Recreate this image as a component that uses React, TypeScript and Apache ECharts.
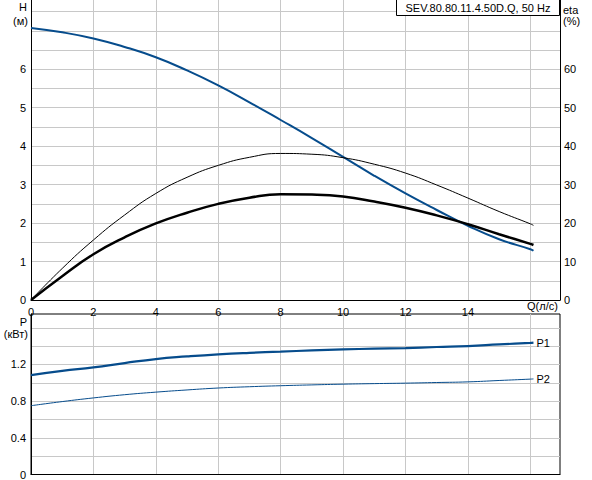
import React, { useEffect, useRef } from 'react';
import * as echarts from 'echarts';

// flow Q (л/с) sample points shared by all curves
const flow = [0, 1, 2, 3, 4, 5, 6, 7, 8, 9, 10, 11, 12, 13, 14, 15, 16, 16.1];
// head H (м)
const head = [7.07, 6.96, 6.8, 6.58, 6.31, 5.97, 5.58, 5.14, 4.68, 4.21, 3.72, 3.23, 2.77, 2.34, 1.93, 1.58, 1.32, 1.28];
// pump efficiency (%)
const etaPump = [0, 8.2, 15.6, 22.1, 27.7, 31.9, 35.0, 37.1, 38.1, 37.9, 37.0, 35.3, 33.0, 29.9, 26.5, 23.0, 19.8, 19.4];
// total efficiency (%)
const etaTotal = [0, 6.2, 11.9, 16.3, 19.9, 22.7, 25.0, 26.6, 27.5, 27.4, 26.9, 25.6, 24.0, 22.0, 19.7, 17.1, 14.6, 14.3];
// power input P1 / shaft power P2 (кВт)
const powerP1 = [1.084, 1.13, 1.168, 1.215, 1.259, 1.287, 1.31, 1.327, 1.34, 1.353, 1.364, 1.372, 1.379, 1.39, 1.40, 1.418, 1.435, 1.438];
const powerP2 = [0.75, 0.795, 0.835, 0.87, 0.898, 0.922, 0.943, 0.957, 0.968, 0.977, 0.985, 0.991, 0.996, 1.003, 1.01, 1.025, 1.04, 1.042];

const FONT = '"Liberation Sans", Arial, sans-serif';
const BLUE = '#064c8c';
const GRID = '#c8c8c8';

const pairs = (ys: number[]) => flow.map((q, i) => [q, ys[i]]);

export default function App() {
  const chartRef = useRef<HTMLDivElement>(null);

  useEffect(() => {
    if (!chartRef.current) return;
    const chart = echarts.init(chartRef.current, undefined, { renderer: 'svg' });

    const label = { color: '#000', fontSize: 11, fontFamily: FONT };
    const split = { show: true, showMinLine: false, showMaxLine: false, lineStyle: { color: GRID, width: 1 } };
    const axisLine = { show: true, lineStyle: { color: '#000', width: 1 } };
    const txt = (text: string, x: number, y: number, align: string) => ({
      type: 'text',
      x,
      y,
      z: 100,
      style: { text, align, verticalAlign: 'middle', fill: '#000', font: `11px ${FONT}` }
    });

    const xBase = {
      type: 'value' as const,
      min: 0,
      max: 16.95,
      interval: 2,
      axisTick: { show: false },
      axisLine,
      splitLine: split
    };

    const option: echarts.EChartsOption = {
      animation: false,
      backgroundColor: '#fff',
      grid: [
        { left: 31, top: 0, width: 529, height: 300 },
        { left: 31, top: 314, width: 529, height: 166, show: true, borderColor: '#000', borderWidth: 1, backgroundColor: 'transparent' }
      ],
      xAxis: [
        {
          ...xBase,
          gridIndex: 0,
          axisLabel: {
            ...label,
            margin: 6,
            formatter: (v: number) => (v % 2 === 0 && v <= 14 ? String(v) : '')
          }
        },
        { ...xBase, gridIndex: 1, axisLabel: { show: false } }
      ],
      yAxis: [
        {
          type: 'value',
          gridIndex: 0,
          min: 0,
          max: 7.8,
          interval: 0.5,
          axisTick: { show: false },
          axisLine,
          splitLine: split,
          axisLabel: {
            ...label,
            margin: 5,
            formatter: (v: number) => (Number.isInteger(v) && v < 7 ? String(v) : '')
          }
        },
        {
          type: 'value',
          gridIndex: 0,
          position: 'right',
          min: 0,
          max: 78,
          interval: 5,
          axisTick: { show: false },
          axisLine,
          splitLine: { show: false },
          axisLabel: {
            ...label,
            margin: 4,
            formatter: (v: number) => (v % 10 === 0 && v < 70 ? String(v) : '')
          }
        },
        {
          type: 'value',
          gridIndex: 1,
          min: 0,
          max: 1.75,
          interval: 0.2,
          axisTick: { show: false },
          axisLine,
          splitLine: split,
          axisLabel: {
            ...label,
            margin: 5,
            formatter: (v: number) => (Math.round(v * 10) % 4 === 0 && v < 1.5 ? String(v) : '')
          }
        }
      ],
      series: [
        {
          name: 'H',
          type: 'line',
          xAxisIndex: 0,
          yAxisIndex: 0,
          smooth: true,
          symbol: 'none',
          lineStyle: { color: BLUE, width: 2 },
          data: pairs(head)
        },
        {
          name: 'eta pump',
          type: 'line',
          xAxisIndex: 0,
          yAxisIndex: 1,
          smooth: true,
          symbol: 'none',
          lineStyle: { color: '#000', width: 1 },
          data: pairs(etaPump)
        },
        {
          name: 'eta total',
          type: 'line',
          xAxisIndex: 0,
          yAxisIndex: 1,
          smooth: true,
          symbol: 'none',
          lineStyle: { color: '#000', width: 2.5 },
          data: pairs(etaTotal)
        },
        {
          name: 'P1',
          type: 'line',
          xAxisIndex: 1,
          yAxisIndex: 2,
          smooth: true,
          symbol: 'none',
          lineStyle: { color: BLUE, width: 2.2 },
          endLabel: { show: true, formatter: 'P1', distance: 3, ...label },
          data: pairs(powerP1)
        },
        {
          name: 'P2',
          type: 'line',
          xAxisIndex: 1,
          yAxisIndex: 2,
          smooth: true,
          symbol: 'none',
          lineStyle: { color: BLUE, width: 1 },
          endLabel: { show: true, formatter: 'P2', distance: 3, ...label },
          data: pairs(powerP2)
        }
      ],
      graphic: [
        txt('H', 27, 7, 'right'),
        txt('(м)', 28, 21, 'right'),
        txt('eta', 563, 10, 'left'),
        txt('(%)', 563, 21, 'left'),
        txt('P', 27, 322, 'right'),
        txt('(кВт)', 28, 334, 'right'),
        txt('Q(л/с)', 527, 306, 'left'),
        {
          type: 'rect',
          z: 100,
          shape: { x: 396.5, y: -1, width: 163, height: 16.5 },
          style: { fill: '#fff', stroke: '#000', lineWidth: 1 }
        },
        { ...txt('SEV.80.80.11.4.50D.Q, 50 Hz', 478, 8, 'center'), z: 101 }
      ]
    };

    chart.setOption(option);
    return () => chart.dispose();
  }, []);

  return (
    <div
      ref={chartRef}
      style={{ position: 'absolute', left: 0, top: 0, width: 592, height: 480 }}
    />
  );
}
